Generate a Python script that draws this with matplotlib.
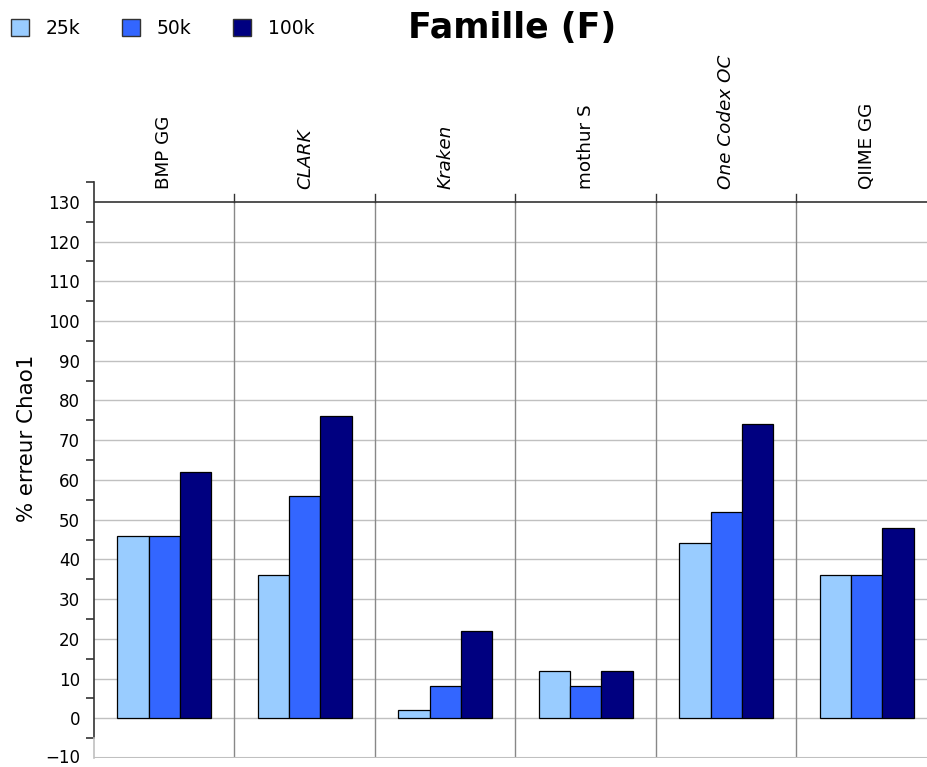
import matplotlib
matplotlib.use("Agg")
import matplotlib.pyplot as plt
from matplotlib.patches import Patch
import matplotlib.transforms as mtransforms
import numpy as np

categories = ["BMP GG", "CLARK", "Kraken", "mothur S", "One Codex OC", "QIIME GG"]
italic_cats = ["CLARK", "Kraken", "One Codex OC"]
series_names = ["25k", "50k", "100k"]
vals_25k = [46, 36, 2, 12, 44, 36]
vals_50k = [46, 56, 8, 8, 52, 36]
vals_100k = [62, 76, 22, 12, 74, 48]
colors = ["#99ccff", "#3366ff", "#000080"]
yticks_major = list(range(-10, 140, 10))

W, H = 928, 767
fig = plt.figure(figsize=(W / 100, H / 100), dpi=100)
ax_left, ax_right = 94 / W, 937 / W
ax_bottom, ax_top = 1 - 758 / H, 1 - 182 / H
ax = fig.add_axes([ax_left, ax_bottom, ax_right - ax_left, ax_top - ax_bottom])

ax.set_xlim(-0.5, 5.5)
ax.set_ylim(-10, 135)

# gridlines
for v in range(0, 130, 10):
    ax.axhline(v, color="#c0c0c0", lw=1, zorder=0)

# category separators
for i in range(1, len(categories)):
    ax.plot([i - 0.5, i - 0.5], [-10, 130], color="#888888", lw=1, zorder=1)
    ax.plot([i - 0.5, i - 0.5], [130, 132], color="#333333", lw=1, zorder=3, clip_on=False)

x = np.arange(len(categories))
w = 0.223
for j, (vals, c) in enumerate(zip([vals_25k, vals_50k, vals_100k], colors)):
    ax.bar(x + (j - 1) * w, vals, width=w, color=c, edgecolor="black", linewidth=0.9, zorder=2)

# top category axis line at 130
ax.axhline(130, color="#333333", lw=1.2, zorder=3)

# category labels
for i, cat in enumerate(categories):
    ax.text(i, 133.3, cat, rotation=90, ha="center", va="bottom", fontsize=13.2,
            fontstyle="italic" if cat in italic_cats else "normal", clip_on=False)

# spines
for s in ["top", "right", "bottom"]:
    ax.spines[s].set_visible(False)
ax.spines["left"].set_bounds(-5, 135)
ax.spines["left"].set_color("#333333")
ax.spines["left"].set_linewidth(1.2)
ax.plot([-0.5, -0.5], [-10, -5], color="#c0c0c0", lw=1.2, clip_on=False, zorder=3)
ax.axhline(-10, color="#c0c0c0", lw=1.5, zorder=3)

ax.set_xticks([])
ax.set_yticks(yticks_major)
ax.set_yticklabels([("\u2212%d" % -v) if v < 0 else str(v) for v in yticks_major], fontsize=12)
ax.tick_params(axis="y", which="major", length=0, pad=10)
ax.set_yticks(list(range(-5, 140, 10)), minor=True)
ax.tick_params(axis="y", which="minor", length=6, width=1.2, color="#333333", direction="out")

# nudge the bottom label up slightly so it stays inside the picture
lbl = ax.get_yticklabels()[0]
lbl.set_transform(lbl.get_transform() + mtransforms.ScaledTranslation(0, 2 / 100, fig.dpi_scale_trans))

fig.text(512 / W, 1 - 28 / H, "Famille (F)", ha="center", va="center", fontsize=25, fontweight="bold")
fig.text(27 / W, 1 - 438 / H, "% erreur Chao1", rotation=90, ha="center", va="center", fontsize=15.4)

handles = [Patch(facecolor=c, edgecolor="#333333", linewidth=1) for c in colors]
fig.legend(handles, series_names, loc="upper left", bbox_to_anchor=(11 / W, 1 - 19 / H),
           ncol=3, frameon=False, fontsize=13.5, handlelength=0.96, handleheight=0.96,
           handletextpad=0.9, columnspacing=2.2, borderpad=0, borderaxespad=0)

fig.savefig("out.png", dpi=100)
